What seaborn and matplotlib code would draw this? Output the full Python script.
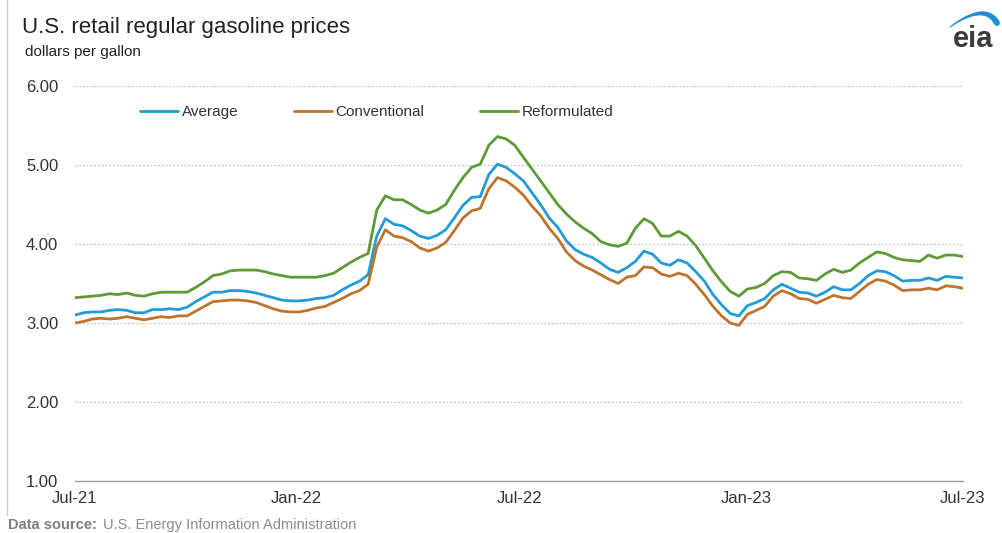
import matplotlib
matplotlib.use('Agg')
import matplotlib.pyplot as plt
from matplotlib.lines import Line2D
import numpy as np
import pandas as pd
import seaborn as sns

# weekly retail prices, dollars per gallon (Mondays)
weeks = pd.date_range('2021-07-05', '2023-06-26', freq='W-MON')

average = [
    3.10, 3.13, 3.14, 3.14, 3.16, 3.17, 3.16, 3.13, 3.13, 3.17,
    3.17, 3.18, 3.17, 3.20, 3.27, 3.33, 3.39, 3.39, 3.41, 3.41,
    3.40, 3.38, 3.35, 3.32, 3.29, 3.28, 3.28, 3.29, 3.31, 3.32,
    3.35, 3.42, 3.48, 3.53, 3.61, 4.10, 4.32, 4.25, 4.23, 4.17,
    4.10, 4.07, 4.11, 4.18, 4.33, 4.49, 4.59, 4.60, 4.88, 5.01,
    4.97, 4.89, 4.80, 4.65, 4.50, 4.33, 4.21, 4.04, 3.93, 3.87,
    3.83, 3.76, 3.68, 3.64, 3.70, 3.78, 3.91, 3.87, 3.76, 3.73,
    3.80, 3.76, 3.65, 3.53, 3.36, 3.23, 3.12, 3.09, 3.22, 3.26,
    3.31, 3.42, 3.49, 3.44, 3.39, 3.38, 3.34, 3.39, 3.46, 3.42,
    3.42, 3.50, 3.60, 3.66, 3.65, 3.60, 3.53, 3.54, 3.54, 3.57,
    3.54, 3.59, 3.58, 3.57,
]

conventional = [
    3.00, 3.02, 3.05, 3.06, 3.05, 3.06, 3.08, 3.06, 3.04, 3.06,
    3.08, 3.07, 3.09, 3.09, 3.15, 3.21, 3.27, 3.28, 3.29, 3.29,
    3.28, 3.26, 3.22, 3.18, 3.15, 3.14, 3.14, 3.16, 3.19, 3.21,
    3.26, 3.31, 3.37, 3.41, 3.49, 3.96, 4.18, 4.10, 4.08, 4.03,
    3.95, 3.91, 3.95, 4.02, 4.17, 4.33, 4.42, 4.45, 4.70, 4.84,
    4.80, 4.72, 4.62, 4.48, 4.36, 4.20, 4.07, 3.90, 3.79, 3.72,
    3.67, 3.61, 3.55, 3.50, 3.58, 3.60, 3.71, 3.70, 3.62, 3.59,
    3.63, 3.60, 3.49, 3.36, 3.21, 3.09, 3.00, 2.97, 3.11, 3.16,
    3.21, 3.34, 3.41, 3.37, 3.31, 3.30, 3.25, 3.30, 3.35, 3.32,
    3.31, 3.40, 3.49, 3.55, 3.53, 3.48, 3.41, 3.42, 3.42, 3.44,
    3.42, 3.47, 3.46, 3.44,
]

reformulated = [
    3.32, 3.33, 3.34, 3.35, 3.37, 3.36, 3.38, 3.35, 3.34, 3.37,
    3.39, 3.39, 3.39, 3.39, 3.45, 3.52, 3.60, 3.62, 3.66, 3.67,
    3.67, 3.67, 3.65, 3.62, 3.60, 3.58, 3.58, 3.58, 3.58, 3.60,
    3.63, 3.70, 3.77, 3.83, 3.88, 4.43, 4.61, 4.56, 4.56, 4.50,
    4.43, 4.39, 4.43, 4.50, 4.68, 4.84, 4.97, 5.01, 5.25, 5.36,
    5.33, 5.25, 5.10, 4.95, 4.80, 4.65, 4.50, 4.38, 4.28, 4.20,
    4.13, 4.03, 3.99, 3.97, 4.01, 4.20, 4.32, 4.26, 4.10, 4.10,
    4.16, 4.10, 3.98, 3.82, 3.66, 3.52, 3.40, 3.34, 3.43, 3.45,
    3.50, 3.60, 3.65, 3.64, 3.57, 3.56, 3.54, 3.62, 3.68, 3.64,
    3.67, 3.76, 3.83, 3.90, 3.88, 3.83, 3.80, 3.79, 3.78, 3.86,
    3.82, 3.86, 3.86, 3.84,
]

series_names = ['Average', 'Conventional', 'Reformulated']
series_colors = ['#229bd6', '#be742c', '#5f9a36']
tick_dates = ['2021-07-05', '2022-01-01', '2022-07-01', '2023-01-01', '2023-06-26']
tick_labels = ['Jul-21', 'Jan-22', 'Jul-22', 'Jan-23', 'Jul-23']
y_ticks = [1, 2, 3, 4, 5, 6]

df = pd.DataFrame({'week': weeks, 'Average': average,
                   'Conventional': conventional, 'Reformulated': reformulated})
df = df.melt(id_vars='week', var_name='series', value_name='price')

sns.set_style('white')
plt.rcParams['font.family'] = ['Liberation Sans', 'DejaVu Sans']

W, H = 1003, 533
fig = plt.figure(figsize=(W / 100, H / 100), dpi=100)
ax = fig.add_axes([75 / W, 1 - 481 / H, (963 - 75) / W, (481 - 86) / H])

sns.lineplot(data=df, x='week', y='price', hue='series', hue_order=series_names,
             palette=series_colors, linewidth=2.0, ax=ax)

ax.set_xlim(weeks[0], weeks[-1])
ax.set_ylim(1, 6)
ax.set_yticks(y_ticks)
ax.set_yticklabels([f'{v:.2f}' for v in y_ticks])
ax.set_xticks(pd.to_datetime(tick_dates))
ax.set_xticklabels(tick_labels)
ax.set_xlabel('')
ax.set_ylabel('')

ax.yaxis.grid(True, linestyle=(0, (1.5, 1.5)), color='#c4c4c4', linewidth=0.9)
ax.xaxis.grid(False)
for s in ['top', 'right', 'left']:
    ax.spines[s].set_visible(False)
ax.spines['bottom'].set_color('#a0a0a0')
ax.spines['bottom'].set_linewidth(1.0)
ax.tick_params(axis='y', length=0, pad=12, labelsize=12, labelcolor='#333333')
ax.tick_params(axis='x', direction='inout', length=5, color='#a0a0a0', pad=5,
               labelsize=12, labelcolor='#333333')

handles, labels = ax.get_legend_handles_labels()
ax.legend(handles, labels, ncol=3, loc='center left',
          bbox_to_anchor=(140 / W, 1 - 112 / H), bbox_transform=fig.transFigure,
          frameon=False, handlelength=2.5, handletextpad=0.25, columnspacing=3.6,
          borderpad=0, borderaxespad=0, fontsize=11, labelcolor='#333333')

fig.text(22 / W, 1 - 28 / H, 'U.S. retail regular gasoline prices',
         fontsize=16, color='#222222', va='center', ha='left')
fig.text(25 / W, 1 - 52 / H, 'dollars per gallon',
         fontsize=11, color='#222222', va='center', ha='left')
fig.text(8 / W, 1 - 525 / H, 'Data source:', fontsize=10.5, fontweight='bold',
         color='#7f7f7f', va='center', ha='left')
fig.text(103 / W, 1 - 525 / H, 'U.S. Energy Information Administration',
         fontsize=10.5, color='#8c8c8c', va='center', ha='left')

# left frame edge
fig.add_artist(Line2D([7 / W, 7 / W], [1 - 515 / H, 1], transform=fig.transFigure,
                      color='#cccccc', linewidth=1))

# eia logo
lax = fig.add_axes([940 / W, 1 - 52 / H, 62 / W, 50 / H])
lax.set_xlim(0, 62)
lax.set_ylim(50, 0)
lax.axis('off')
t = np.linspace(0, 1, 30)
p0, p1, p2 = np.array([10, 25]), np.array([45, 0]), np.array([57, 21])
curve = ((1 - t)[:, None] ** 2) * p0 + (2 * (1 - t) * t)[:, None] * p1 + (t[:, None] ** 2) * p2
for k in range(len(t) - 1):
    lax.plot(curve[k:k + 2, 0], curve[k:k + 2, 1], color='#1f8fd0',
             linewidth=0.8 + 3.6 * t[k], solid_capstyle='round')
lax.text(33, 37, 'eia', fontsize=21, fontweight='bold', color='#3a3a3a',
         ha='center', va='center')

fig.savefig('out.png', dpi=100)
